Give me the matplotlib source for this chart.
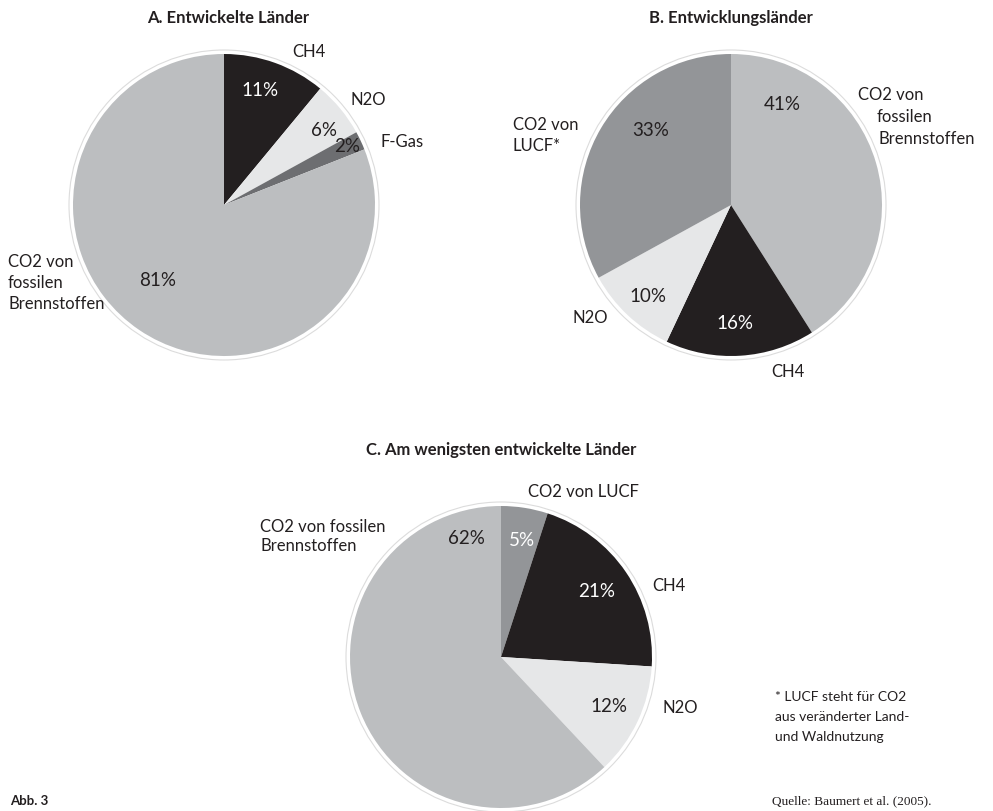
import matplotlib
matplotlib.use("Agg")
import matplotlib.pyplot as plt
from matplotlib.patches import Circle

W, H = 993, 812

# --- data ---
a_names = ["CH4", "N2O", "F-Gas", "CO2 von\nfossilen\nBrennstoffen"]
a_values = [11, 6, 2, 81]
b_names = ["CO2 von\nfossilen\nBrennstoffen", "CH4", "N2O", "CO2 von\nLUCF*"]
b_values = [41, 16, 10, 33]
c_names = ["CO2 von LUCF", "CH4", "N2O", "CO2 von fossilen\nBrennstoffen"]
c_values = [5, 21, 12, 62]

# --- styles ---
BLACK = "#231f20"
LIGHT = "#e6e7e8"
GREY = "#bcbec0"
MID = "#939598"
DARK = "#6d6e71"

plt.rcParams["font.family"] = ["Lato", "DejaVu Sans"]

fig = plt.figure(figsize=(W / 100, H / 100), dpi=100)
ax = fig.add_axes([0, 0, 1, 1])
ax.set_xlim(0, W)
ax.set_ylim(0, H)
ax.set_aspect("equal")
ax.axis("off")


def py(y):
    # pixel row (from top) -> data y
    return H - y


R = 151


def draw_pie(values, colors, cx, cy):
    ax.pie(values, colors=colors, startangle=90, counterclock=False,
           center=(cx, py(cy)), radius=R, frame=True,
           wedgeprops=dict(linewidth=0))
    ax.add_patch(Circle((cx, py(cy)), R + 4, fill=False,
                        edgecolor="#dcdcdc", linewidth=0.8))


def put(x, y, s, size=12, color="#231f20", ha="center", va="center", **kw):
    ax.text(x, py(y), s, fontsize=size, color=color, ha=ha, va=va, **kw)


def put_lines(xs, y0, dy, s, **kw):
    # multi-line label, each line with its own left edge
    for i, (x, line) in enumerate(zip(xs, s.split("\n"))):
        put(x, y0 + i * dy, line, ha="left", **kw)


PCT = 13.5
TITLE = 12

# A. Entwickelte Länder
draw_pie(a_values, [BLACK, LIGHT, DARK, GREY], 224, 206)
put(228, 18, "A. Entwickelte Länder", size=TITLE, weight="bold")
put(292, 52, a_names[0], ha="left")
put(350, 100, a_names[1], ha="left")
put(380, 142, a_names[2], ha="left")
put_lines([8, 8, 8], 262, 21, a_names[3])
pct_a = [(260, 90, "white"), (324, 130, BLACK), (347, 147, BLACK), (158, 281, BLACK)]
for v, (x, y, c) in zip(a_values, pct_a):
    put(x, y, f"{v}%", size=PCT, color=c)

# B. Entwicklungsländer
draw_pie(b_values, [GREY, BLACK, LIGHT, MID], 731, 206)
put(731, 18, "B. Entwicklungsländer", size=TITLE, weight="bold")
put_lines([858, 877, 878], 95, 22, b_names[0])
put(771, 372, b_names[1], ha="left")
put(573, 318, b_names[2], ha="left")
put_lines([513, 513], 125, 21, b_names[3])
pct_b = [(782, 105, BLACK), (735, 324, "white"), (648, 296, BLACK), (651, 131, BLACK)]
for v, (x, y, c) in zip(b_values, pct_b):
    put(x, y, f"{v}%", size=PCT, color=c)

# C. Am wenigsten entwickelte Länder
draw_pie(c_values, [MID, BLACK, LIGHT, GREY], 501, 658)
put(501, 450, "C. Am wenigsten entwickelte Länder", size=TITLE, weight="bold")
put(528, 492, c_names[0], ha="left")
put(652, 586, c_names[1], ha="left")
put(662, 708, c_names[2], ha="left")
put_lines([260, 260], 527, 19, c_names[3])
pct_c = [(522, 540, "white"), (597, 592, "white"), (609, 707, BLACK), (466, 538, BLACK)]
for v, (x, y, c) in zip(c_values, pct_c):
    put(x, y, f"{v}%", size=PCT, color=c)

# footnote and source
put_lines([775, 775, 775], 697, 20,
          "* LUCF steht für CO2\naus veränderter Land-\nund Waldnutzung", size=10)
put(10, 801, "Abb. 3", size=9.5, ha="left", weight="bold")
put(772, 801, "Quelle: Baumert et al. (2005).", size=9.5, ha="left",
    family="Liberation Serif")

fig.savefig("out.png", dpi=100, facecolor="white")
